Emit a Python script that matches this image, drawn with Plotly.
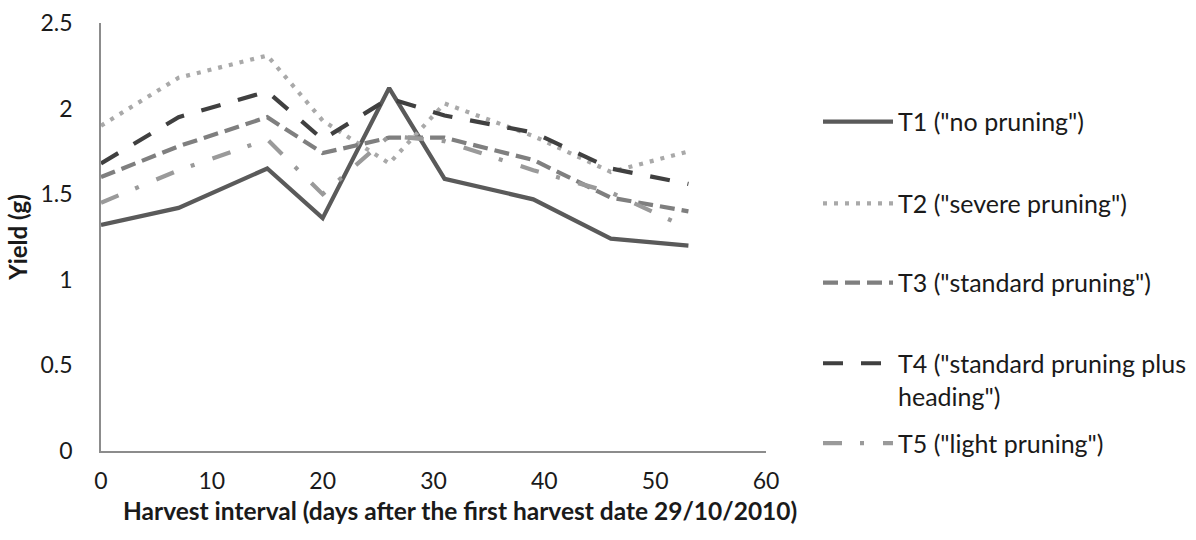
import plotly.graph_objects as go

# Harvest days after the first harvest (29/10/2010)
days = [0, 7, 15, 20, 26, 31, 39, 46, 53]

# Yield (g) per pruning treatment
t1_no_pruning = [1.32, 1.42, 1.65, 1.36, 2.12, 1.59, 1.47, 1.24, 1.20]
t2_severe = [1.90, 2.18, 2.31, 1.93, 1.68, 2.03, 1.84, 1.63, 1.75]
t3_standard = [1.60, 1.78, 1.95, 1.74, 1.83, 1.83, 1.70, 1.48, 1.40]
t4_standard_heading = [1.68, 1.95, 2.10, 1.82, 2.06, 1.96, 1.86, 1.65, 1.56]
t5_light = [1.45, 1.64, 1.82, 1.50, 1.84, 1.81, 1.64, 1.51, 1.30]

series_names = [
    'T1 ("no pruning")',
    'T2 ("severe pruning")',
    'T3 ("standard pruning")',
    'T4 ("standard pruning plus<br>heading")',
    'T5 ("light pruning")',
]
series_values = [t1_no_pruning, t2_severe, t3_standard, t4_standard_heading, t5_light]

FONT = "Lato"
TEXT = "#1a1a1a"

styles = [
    dict(color="#5a5a5a", width=4.2, dash="solid"),
    dict(color="#a9a9a9", width=4.2, dash="4px,7px"),
    dict(color="#7f7f7f", width=4.2, dash="15px,7px"),
    dict(color="#404040", width=4.2, dash="20px,18px"),
    dict(color="#9a9a9a", width=4.2, dash="19px,18px,4px,19px"),
]

# one legend per series so each entry sits at its own height
legend_ids = ["legend", "legend2", "legend3", "legend4", "legend5"]
legend_y = [0.769, 0.578, 0.393, 0.167, 0.018]

fig = go.Figure()
for name, vals, st, lid in zip(series_names, series_values, styles, legend_ids):
    fig.add_trace(go.Scatter(
        x=days, y=vals, mode="lines", name=name,
        line=st, legend=lid, hoverinfo="x+y+name",
    ))

legend_common = dict(
    x=1.0782, xanchor="left", yanchor="middle",
    bgcolor="rgba(0,0,0,0)", borderwidth=0,
    font=dict(family=FONT, size=25, color=TEXT),
    valign="top", itemwidth=70,
)
layout_legends = {}
for lid, ly in zip(legend_ids, legend_y):
    layout_legends[lid] = dict(legend_common, y=ly)

fig.update_layout(
    width=1196, height=540,
    margin=dict(l=101, r=430, t=23, b=89, autoexpand=False),
    paper_bgcolor="white", plot_bgcolor="white",
    font=dict(family=FONT, size=23, color=TEXT),
    showlegend=True,
    xaxis=dict(
        range=[0, 60], dtick=10, tick0=0,
        showline=True, linecolor="#8c8c8c", linewidth=1.5,
        showgrid=False, zeroline=False, ticks="",
        ticklabelstandoff=9,
        tickfont=dict(family=FONT, size=23, color=TEXT),
    ),
    yaxis=dict(
        range=[0, 2.5], dtick=0.5, tick0=0,
        showline=True, linecolor="#8c8c8c", linewidth=1.5,
        showgrid=False, zeroline=False, ticks="",
        ticklabelstandoff=22,
        tickfont=dict(family=FONT, size=23, color=TEXT),
        title=dict(
            text="<b>Yield (g)</b>",
            font=dict(family=FONT, size=24, color=TEXT), standoff=6,
        ),
    ),
    annotations=[dict(
        text="<b>Harvest interval (days after the first harvest date 29/10/2010)</b>",
        xref="paper", yref="paper", x=0.540, y=-0.138,
        xanchor="center", yanchor="middle", showarrow=False,
        font=dict(family=FONT, size=24.5, color=TEXT),
    )],
    **layout_legends,
)

fig.write_html("out.html")
